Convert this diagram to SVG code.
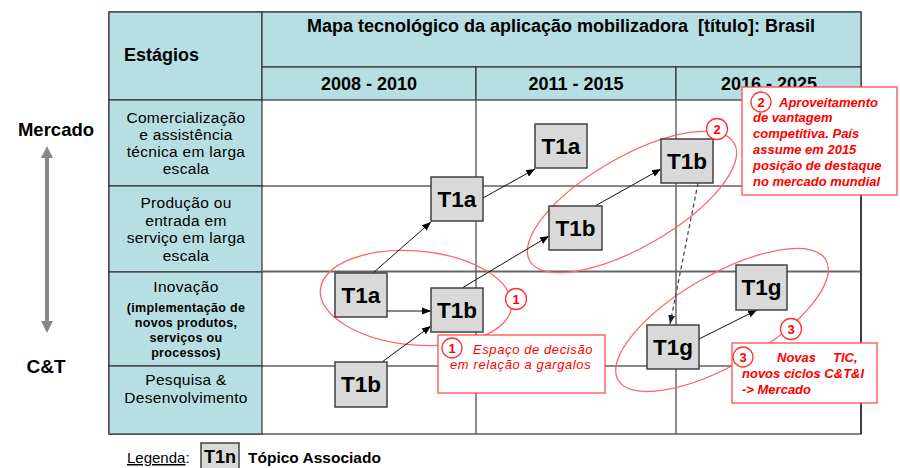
<svg xmlns="http://www.w3.org/2000/svg" width="900" height="468" viewBox="0 0 900 468">
<defs>
<marker id="ah" viewBox="0 0 10 10" refX="10" refY="5" markerWidth="9" markerHeight="9" markerUnits="userSpaceOnUse" orient="auto"><path d="M0,1 L10,5 L0,9 z" fill="#000"/></marker>
<marker id="ahd" viewBox="0 0 10 10" refX="10" refY="5" markerWidth="9" markerHeight="9" markerUnits="userSpaceOnUse" orient="auto"><path d="M0,1 L10,5 L0,9 z" fill="#222"/></marker>
</defs>
<style>
.f{font-family:"Liberation Sans",Arial,sans-serif}
.hdr{fill:#b7dfe3;stroke:#333;stroke-width:1.2}
.hb{font-family:"Liberation Sans",Arial,sans-serif;font-weight:bold;font-size:18px;fill:#000}
.rt{font-family:"Liberation Sans",Arial,sans-serif;font-size:15.5px;letter-spacing:0.3px;fill:#000;text-anchor:middle}
.st{font-family:"Liberation Sans",Arial,sans-serif;font-weight:bold;font-size:12.5px;letter-spacing:0.3px;fill:#000;text-anchor:middle}
.node rect{fill:#d9d9d9;stroke:#404040;stroke-width:1.5}
.node text{font-family:"Liberation Sans",Arial,sans-serif;font-weight:bold;font-size:22.5px;fill:#000;text-anchor:middle}
.con{stroke:#111;stroke-width:1;fill:none;marker-end:url(#ah)}
.dash{stroke:#444;stroke-width:1.2;stroke-dasharray:4,3;fill:none;marker-end:url(#ahd)}
.ell{fill:none;stroke:#ff6666;stroke-width:1.3}
.nc{fill:#fff;stroke:#ff3333;stroke-width:1.3}
.nt{font-family:"Liberation Sans",Arial,sans-serif;font-weight:bold;font-size:13px;fill:#ff0000;text-anchor:middle}
.cb{fill:#fff;stroke:#ff4d4d;stroke-width:1.3}
.ct{font-family:"Liberation Sans",Arial,sans-serif;font-weight:bold;font-style:italic;font-size:13px;fill:#ff0000}
.ci{font-family:"Liberation Sans",Arial,sans-serif;font-style:italic;font-size:13px;letter-spacing:0.6px;fill:#ff0000}
.gl{stroke:#666;stroke-width:1.5}
.bl{stroke:#111;stroke-width:1}
</style>

<!-- table -->
<g id="table">
  <rect x="109" y="12" width="752" height="422" fill="#fff" stroke="#333" stroke-width="1.2"/>
  <rect class="hdr" x="109" y="12" width="153" height="88"/>
  <rect class="hdr" x="262" y="12" width="599" height="55"/>
  <rect class="hdr" x="262" y="67" width="214" height="33"/>
  <rect class="hdr" x="476" y="67" width="200" height="33"/>
  <rect class="hdr" x="676" y="67" width="185" height="33"/>
  <rect class="hdr" x="109" y="100" width="153" height="86"/>
  <rect class="hdr" x="109" y="186" width="153" height="86"/>
  <rect class="hdr" x="109" y="272" width="153" height="94"/>
  <rect class="hdr" x="109" y="366" width="153" height="68"/>
  <line class="bl" x1="262" y1="186" x2="861" y2="186"/>
  <line x1="262" y1="271.5" x2="861" y2="271.5" stroke="#666" stroke-width="2"/>
  <line class="bl" x1="262" y1="366" x2="861" y2="366"/>
  <line class="gl" x1="476" y1="100" x2="476" y2="434"/>
  <line class="gl" x1="676" y1="100" x2="676" y2="434"/>
  <line x1="861" y1="100" x2="861" y2="434" stroke="#111" stroke-width="1.2"/>
  <text class="hb" x="124" y="61">Estágios</text>
  <text class="hb" x="561" y="32" text-anchor="middle" xml:space="preserve">Mapa tecnológico da aplicação mobilizadora  [título]: Brasil</text>
  <text class="hb" x="369" y="90" text-anchor="middle">2008 - 2010</text>
  <text class="hb" x="576" y="90" text-anchor="middle">2011 - 2015</text>
  <text class="hb" x="769" y="90" text-anchor="middle">2016 - 2025</text>
  <text class="rt" x="186"><tspan x="186" y="123">Comercialização</tspan><tspan x="186" y="140">e assistência</tspan><tspan x="186" y="157">técnica em larga</tspan><tspan x="186" y="174">escala</tspan></text>
  <text class="rt" x="186"><tspan x="186" y="208">Produção ou</tspan><tspan x="186" y="226">entrada em</tspan><tspan x="186" y="243">serviço em larga</tspan><tspan x="186" y="261">escala</tspan></text>
  <text class="rt" x="186" y="292">Inovação</text>
  <text class="st" x="186"><tspan x="186" y="312">(implementação de</tspan><tspan x="186" y="327">novos produtos,</tspan><tspan x="186" y="342">serviços ou</tspan><tspan x="186" y="357">processos)</tspan></text>
  <text class="rt" x="186"><tspan x="186" y="385">Pesquisa &amp;</tspan><tspan x="186" y="403">Desenvolvimento</tspan></text>
</g>

<!-- left axis -->
<g id="axis">
  <text class="f" x="56" y="136" font-size="18.5" font-weight="bold" text-anchor="middle">Mercado</text>
  <line x1="47" y1="156" x2="47" y2="323" stroke="#888" stroke-width="4"/>
  <path d="M47,146 L41,158 L53,158 z" fill="#888"/>
  <path d="M47,333 L41,321 L53,321 z" fill="#888"/>
  <text class="f" x="46" y="373" font-size="19" font-weight="bold" text-anchor="middle">C&amp;T</text>
</g>

<!-- ellipses -->
<g id="ellipses">
  <ellipse class="ell" cx="416" cy="298" rx="96" ry="47" transform="rotate(5 416 298)"/>
  <ellipse class="ell" cx="632" cy="202" rx="118" ry="45" transform="rotate(-30 632 202)"/>
  <ellipse class="ell" cx="722" cy="320" rx="120" ry="45" transform="rotate(-30 722 320)"/>
</g>

<!-- connectors -->
<g id="connectors">
  <line class="con" x1="373" y1="273" x2="431" y2="222"/>
  <line class="con" x1="483" y1="198" x2="535" y2="169"/>
  <line class="con" x1="462" y1="288" x2="549" y2="236"/>
  <line class="con" x1="595" y1="206" x2="661" y2="169"/>
  <line class="con" x1="387" y1="311" x2="431" y2="311"/>
  <line class="con" x1="382" y1="362" x2="431" y2="326"/>
  <line class="dash" x1="698" y1="183" x2="670" y2="324"/>
  <line class="con" x1="699" y1="339" x2="757" y2="310"/>
</g>

<!-- nodes -->
<g id="n1" class="node"><rect x="535" y="124" width="52" height="44"/><text x="561" y="154">T1a</text></g>
<g id="n2" class="node"><rect x="431" y="177" width="52" height="44"/><text x="457" y="207">T1a</text></g>
<g id="n3" class="node"><rect x="549" y="206" width="53" height="44"/><text x="575.5" y="236">T1b</text></g>
<g id="n4" class="node"><rect x="661" y="139" width="52" height="44"/><text x="687" y="169">T1b</text></g>
<g id="n5" class="node"><rect x="335" y="273" width="52" height="44"/><text x="361" y="303">T1a</text></g>
<g id="n6" class="node"><rect x="431" y="288" width="52" height="44"/><text x="457" y="318">T1b</text></g>
<g id="n7" class="node"><rect x="335" y="362" width="52" height="45"/><text x="361" y="392">T1b</text></g>
<g id="n8" class="node"><rect x="647" y="325" width="52" height="44"/><text x="673" y="355">T1g</text></g>
<g id="n9" class="node"><rect x="736" y="265" width="51" height="45"/><text x="761.5" y="295">T1g</text></g>

<!-- ellipse number markers -->
<g id="marks">
  <circle class="nc" cx="516" cy="299" r="10.5"/><text class="nt" x="516" y="304">1</text>
  <circle class="nc" cx="717" cy="129" r="10.5"/><text class="nt" x="717" y="134">2</text>
  <circle class="nc" cx="791" cy="329" r="10.5"/><text class="nt" x="791" y="334">3</text>
</g>

<!-- callouts -->
<g id="callout1">
  <rect class="cb" x="438" y="335" width="167" height="58"/>
  <circle class="nc" cx="452" cy="348" r="10"/><text class="nt" x="452" y="353">1</text>
  <text class="ci" x="473" y="354">Espaço de decisão</text>
  <text class="ci" x="450" y="369">em relação a gargalos</text>
</g>
<g id="callout2">
  <rect class="cb" x="742" y="87" width="155" height="108"/>
  <circle class="nc" cx="761" cy="102" r="10"/><text class="nt" x="761" y="107">2</text>
  <text class="ct" x="779" y="107">Aproveitamento</text>
  <text class="ct"><tspan x="753" y="122">de vantagem</tspan><tspan x="753" y="138">competitiva. País</tspan><tspan x="753" y="154">assume em 2015</tspan><tspan x="753" y="170">posição de destaque</tspan><tspan x="753" y="186">no mercado mundial</tspan></text>
</g>
<g id="callout3">
  <rect class="cb" x="732" y="343" width="145" height="60"/>
  <circle class="nc" cx="743" cy="357" r="10"/><text class="nt" x="743" y="362">3</text>
  <text class="ct" x="777" y="362">Novas</text>
  <text class="ct" x="833" y="362">TIC,</text>
  <text class="ct" x="742" y="378">novos ciclos C&amp;T&amp;I</text>
  <text class="ct" x="742" y="394">-&gt; Mercado</text>
</g>

<!-- legend -->
<g id="legend">
  <text class="f" x="127" y="463" font-size="15"><tspan text-decoration="underline">Legenda</tspan>:</text>
  <rect x="201" y="443" width="38" height="30" fill="#d9d9d9" stroke="#404040" stroke-width="1.5"/>
  <text class="f" x="220" y="463" font-size="18" font-weight="bold" text-anchor="middle">T1n</text>
  <text class="f" x="248" y="463" font-size="15.5" font-weight="bold">Tópico Associado</text>
</g>
</svg>
